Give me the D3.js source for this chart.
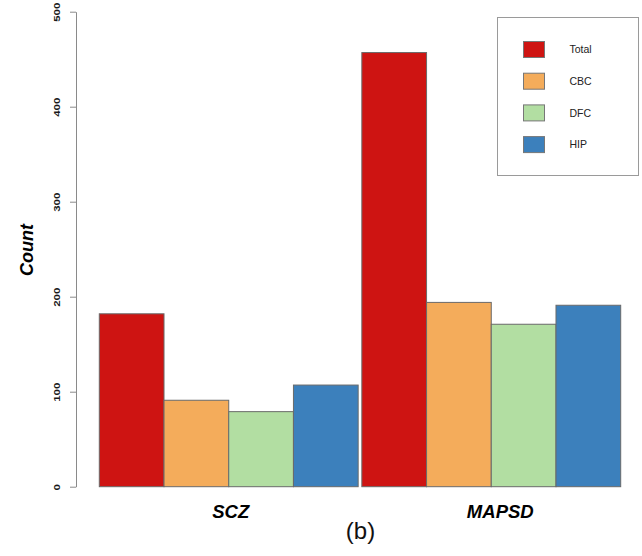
<!DOCTYPE html>
<html>
<head>
<meta charset="utf-8">
<script src="https://cdn.jsdelivr.net/npm/d3@7"></script>
<style>
  body { margin: 0; background: #fff; }
  svg { display: block; font-family: "Liberation Sans", Arial, sans-serif; }
</style>
</head>
<body>
<svg id="viz" width="642" height="556"></svg>
<script>
// data
const groups = ["SCZ", "MAPSD"];
const series = ["Total", "CBC", "DFC", "HIP"];
const sczValues = [182, 91, 79, 107];
const mapsdValues = [457, 194, 171, 191];
const yTicks = [0, 100, 200, 300, 400, 500];
const colors = ["#ce1412", "#f4ac5b", "#b2dea2", "#3c80bc"];

const table = groups.map((g, i) => ({
    group: g,
    values: series.map((s, j) => ({ key: s, value: [sczValues, mapsdValues][i][j] }))
}));

var svg = d3.select("#viz");

const y = d3.scaleLinear()
    .domain([0, 500])
    .range([486.7, 11.7]);

const x0 = d3.scaleBand()
    .domain(groups)
    .range([99.3, 620.7])
    .paddingInner(0.014)
    .paddingOuter(0);

const x1 = d3.scaleBand()
    .domain(series)
    .range([0, x0.bandwidth()])
    .padding(0);

const color = d3.scaleOrdinal()
    .domain(series)
    .range(colors);

// bars
const gGroups = svg.append("g")
    .selectAll("g")
    .data(table)
    .enter()
    .append("g")
    .attr("transform", d => `translate(${x0(d.group)},0)`);

gGroups.selectAll("rect")
    .data(d => d.values)
    .enter()
    .append("rect")
    .attr("x", d => x1(d.key))
    .attr("y", d => y(d.value))
    .attr("width", x1.bandwidth())
    .attr("height", d => y(0) - y(d.value))
    .attr("fill", d => color(d.key))
    .attr("stroke", "#6a6a6a")
    .attr("stroke-width", 1);

// y axis
const yAxis = svg.append("g")
    .attr("transform", "translate(76,0)")
    .call(d3.axisLeft(y).tickValues(yTicks).tickSize(6).tickSizeOuter(0));

yAxis.select(".domain").attr("stroke", "#8a8a8a");
yAxis.selectAll(".tick line").attr("stroke", "#8a8a8a");
yAxis.selectAll(".tick text")
    .attr("transform", "rotate(-90)")
    .attr("x", 0)
    .attr("y", -19)
    .attr("dy", "0.35em")
    .attr("text-anchor", "middle")
    .attr("font-family", "Liberation Sans, Arial, sans-serif")
    .attr("font-size", 9.5)
    .attr("font-weight", "bold")
    .attr("fill", "#1a1a1a")
    .attr("lengthAdjust", "spacingAndGlyphs")
    .attr("textLength", d => String(d).length * 6.4);

svg.append("text")
    .attr("transform", "translate(33,250) rotate(-90)")
    .attr("text-anchor", "middle")
    .attr("font-size", 18)
    .attr("font-weight", "bold")
    .attr("font-style", "italic")
    .attr("fill", "#000")
    .text("Count");

// group labels (MAPSD label sits a little right of its group centre)
const labelNudge = [2, 9];
svg.append("g")
    .selectAll("text")
    .data(groups)
    .enter()
    .append("text")
    .attr("x", (d, i) => x0(d) + x0.bandwidth() / 2 + labelNudge[i])
    .attr("y", 517.5)
    .attr("text-anchor", "middle")
    .attr("font-size", 18.5)
    .attr("font-weight", "bold")
    .attr("font-style", "italic")
    .attr("fill", "#000")
    .text(d => d);

svg.append("text")
    .attr("x", 360.5)
    .attr("y", 538.5)
    .attr("text-anchor", "middle")
    .attr("font-size", 24)
    .attr("fill", "#111")
    .text("(b)");

// legend
const legend = svg.append("g").attr("class", "legend");
legend.append("rect")
    .attr("x", 497.5)
    .attr("y", 17.5)
    .attr("width", 141)
    .attr("height", 158)
    .attr("fill", "#fff")
    .attr("stroke", "#9a9a9a")
    .attr("stroke-width", 1);

const item = legend.selectAll("g.item")
    .data(series)
    .enter()
    .append("g")
    .attr("class", "item")
    .attr("transform", (d, i) => `translate(0,${41.5 + i * 31.7})`);

item.append("rect")
    .attr("x", 523.5)
    .attr("y", 0)
    .attr("width", 21)
    .attr("height", 16)
    .attr("fill", d => color(d))
    .attr("stroke", "#777")
    .attr("stroke-width", 1);

item.append("text")
    .attr("x", 569.5)
    .attr("y", 8)
    .attr("dy", "0.35em")
    .attr("font-size", 10.5)
    .attr("fill", "#222")
    .text(d => d);
</script>
</body>
</html>
